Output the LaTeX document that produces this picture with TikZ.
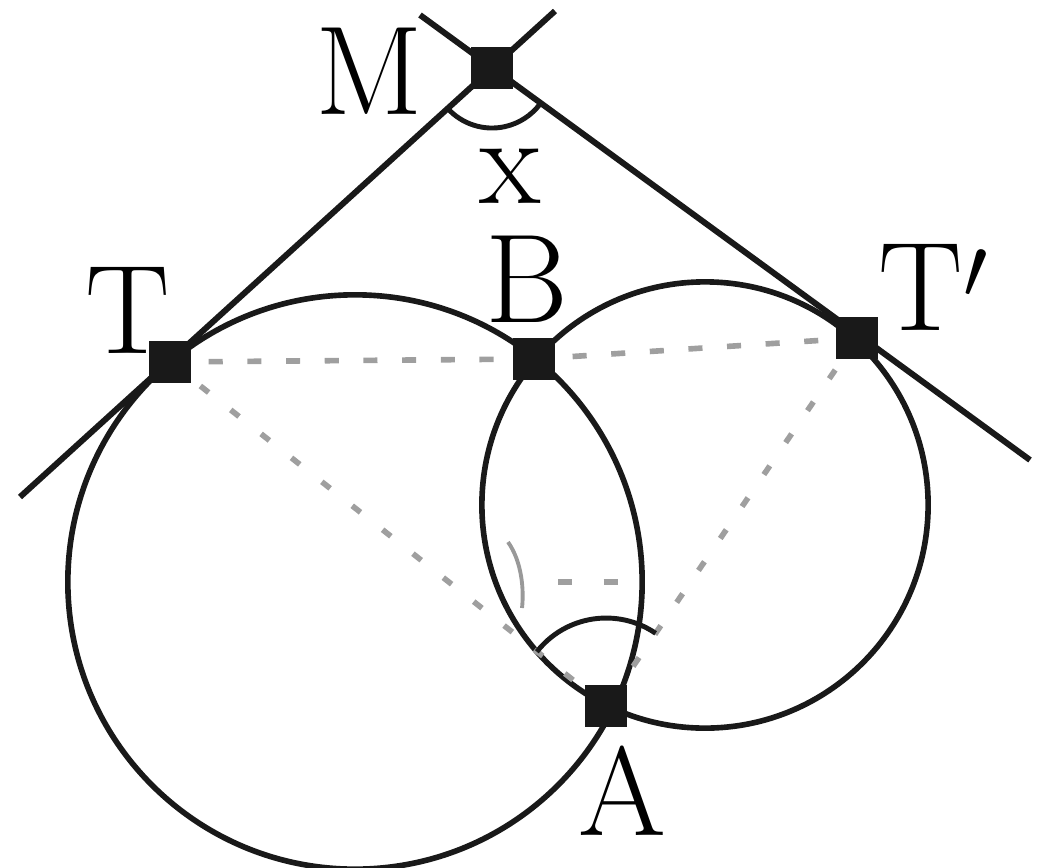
\documentclass[tikz,border=0pt]{standalone}
\usepackage{tikz}
\usetikzlibrary{calc}

\begin{document}
\begin{tikzpicture}[
  x=0.01cm, y=-0.01cm,
  every node/.style={font=\fontsize{36}{40}\selectfont},
  curve/.style={line width=1.6pt, black!90},
  tangent/.style={line width=1.7pt, black!90},
  hidden/.style={line width=1.6pt, gray!75, dash pattern=on 4pt off 7pt},
  ptmark/.style={fill=black!90, minimum size=4.2mm, inner sep=0pt},
  anglemark/.style={line width=1.4pt, black!90},
]
 \useasboundingbox (0,0) rectangle (1037,867);

 % ---- points ----
 \coordinate (O1) at (355,582);
 \coordinate (O2) at (705,505);
 \coordinate (M) at (492,68);
 \coordinate (T) at (170,362);
 \coordinate (Tp) at (857,338);
 \coordinate (B) at (534,359);
 \coordinate (A) at (606,706);
 \coordinate (L1a) at (20,497);
 \coordinate (L1b) at (555,11);
 \coordinate (L2a) at (1030,460);
 \coordinate (L2b) at (420,15);

 % ---- the two circles ----
 \draw[curve] (O1) circle[radius=2.87cm];
 \draw[curve] (O2) circle[radius=2.23cm];

 % ---- tangents through M ----
 \draw[tangent] (L1a) -- (L1b);
 \draw[tangent] (L2a) -- (L2b);

 % ---- dotted chords ----
 \draw[hidden] (T) -- (B);
 \draw[hidden] (B) -- (Tp);
 \draw[hidden, dash pattern=on 3pt off 8pt] (T) -- (A);
 \draw[hidden, dash pattern=on 3pt off 8pt] (Tp) -- (A);
 \draw[hidden, dash pattern=on 4pt off 9pt] (558,582) -- (618,582);

 % ---- angle marks ----
 \draw[anglemark] ($(M)!0.6cm!(T)$) arc[start angle=222.4, end angle=323.4, radius=0.6cm];
 \draw[anglemark] ($(A)!0.88cm!(Tp)$) arc[start angle=55.8, end angle=141.9, radius=0.88cm];
 \draw[anglemark, gray!80, line width=1.1pt] (508,542) .. controls (522,562) and (524,590) .. (522,608);

 % ---- marked points ----
 \node[ptmark] (mM) at (M) {};
 \node[ptmark] (mT) at (T) {};
 \node[ptmark] (mTp) at (Tp) {};
 \node[ptmark] (mB) at (B) {};
 \node[ptmark] (mA) at (A) {};

 % ---- labels ----
 \node[anchor=base] (lM) at (369,115) {M};
 \node[anchor=base] (lx) at (510,203) {x};
 \node[anchor=base] (lT) at (128,353) {T};
 \node[anchor=base] (lB) at (527,322) {B};
 \node[anchor=base west] (lTp) at (866,330) {T$'$};
 \node[anchor=base] (lA) at (622,835) {A};

\end{tikzpicture}
\end{document}
